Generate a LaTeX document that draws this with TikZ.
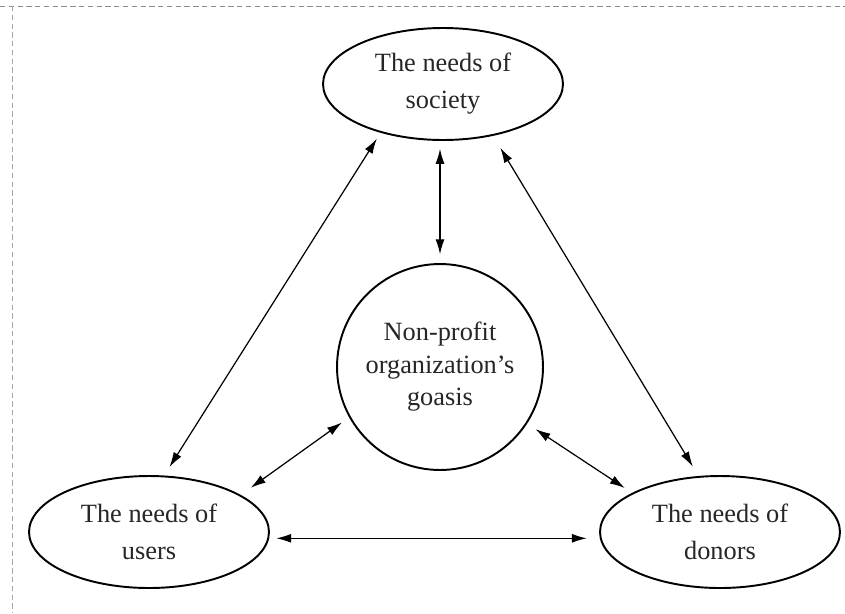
\documentclass[tikz,border=0pt]{standalone}
\usepackage{fontspec}
\setmainfont{Liberation Serif}
\usetikzlibrary{shapes.geometric,arrows.meta}

\tikzset{
  need/.style={ellipse, draw, line width=1.1pt, minimum width=4.8cm, minimum height=2.24cm,
    inner sep=0pt, align=center, text=black!85, font=\fontsize{15}{21}\selectfont},
  goal/.style={circle, draw, line width=1.1pt, minimum size=4.12cm, inner sep=0pt,
    align=center, text=black!85, font=\fontsize{15}{18.5}\selectfont},
  link/.style={{Latex[length=3mm,width=1.8mm]}-{Latex[length=3mm,width=1.8mm]}, line width=0.7pt},
}

\begin{document}
\begin{tikzpicture}[x=0.02cm, y=-0.02cm]
      \useasboundingbox (0,0) rectangle (845,613);

      % Draw the frame of the scan
      \draw[black!45, densely dashed, line width=0.4pt] (0,6) -- (845,6);
      \draw[black!35, densely dashed, line width=0.4pt] (12,6) -- (12,613);

      % Draw the needs and the goals
      \node[need] (society) at (443,84) {The needs of\\society};
      \node[need] (users) at (149,532) {The needs of\\users};
      \node[need] (donors) at (720,532) {The needs of\\donors};
      \node[goal] (goals) at (440,367) {Non-profit\\organization's\\goasis};

      % Draw the arrows between them
      \draw[link, shorten <=4pt, shorten >=5.7pt] (society.218) -- (users.75);
      \draw[link, shorten <=8pt, shorten >=6.3pt] (society.314) -- (donors.111);
      \draw[link, shorten <=4.5pt, shorten >=5pt] (goals.north |- society.south) -- (goals.north);
      \draw[link, shorten <=5pt, shorten >=7pt] (goals.209) -- (users.22);
      \draw[link, shorten <=5.7pt, shorten >=5pt] (goals.327) -- (donors.156);
      \draw[link, shorten <=4pt, shorten >=7.4pt] (users.-3) -- (donors.183);
    \end{tikzpicture}
\end{document}
